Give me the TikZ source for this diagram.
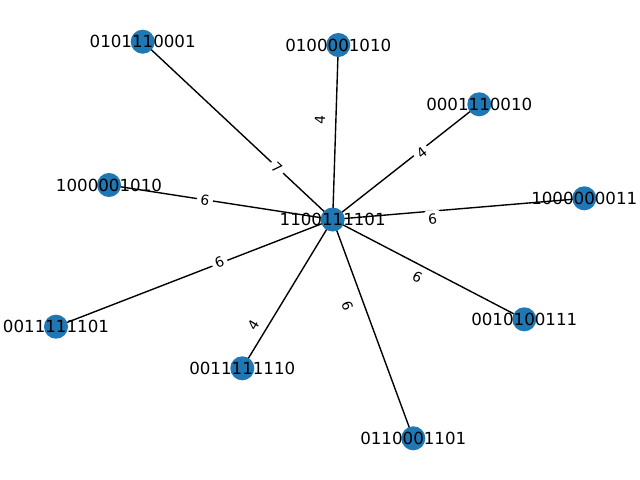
\documentclass[tikz,border=0pt]{standalone}
\usepackage{fontspec}
\setmainfont{DejaVu Sans}
\definecolor{nodeblue}{HTML}{1F77B4}
\begin{document}
\begin{tikzpicture}[x=0.72pt,y=-0.72pt,
  vertex/.style={circle,fill=nodeblue,draw=none,minimum size=17.3pt,inner sep=0pt},
  vlabel/.style={font=\fontsize{12}{14}\selectfont,inner sep=0pt,text=black},
  link/.style={draw=black,line width=1pt},
  wlabel/.style={font=\fontsize{10}{12}\selectfont,fill=white,rounded corners=2pt,inner sep=2.5pt}]
\useasboundingbox (0,0) rectangle (640,480);

% vertex positions
\coordinate (c)  at (332.7,219.5);
\coordinate (n1) at (142.7,41.7);
\coordinate (n2) at (338.3,45);
\coordinate (n3) at (479.3,104.3);
\coordinate (n4) at (109,185);
\coordinate (n5) at (584.3,198.3);
\coordinate (n6) at (56,326.7);
\coordinate (n7) at (242.3,368.3);
\coordinate (n8) at (524.3,319.3);
\coordinate (n9) at (413.3,438.3);

% edges
\foreach \n in {n1,n2,n3,n4,n5,n6,n7,n8,n9}
  \draw[link] (c) -- (\n);

% edge weights
\node[wlabel,rotate=-43]  (w1) at (276.7,168.3) {7};
\node[wlabel,rotate=88]   (w2) at (320,119.5) {4};
\node[wlabel,rotate=38]   (w3) at (421.7,152.7) {4};
\node[wlabel,rotate=-8.6] (w4) at (205,200) {6};
\node[wlabel,rotate=4.8]  (w5) at (432.7,219) {6};
\node[wlabel,rotate=21.3] (w6) at (219.3,261.7) {6};
\node[wlabel,rotate=58.6] (w7) at (253.3,325) {4};
\node[wlabel,rotate=-27.6](w8) at (417.3,277.3) {6};
\node[wlabel,rotate=-70]  (w9) at (347.3,306) {6};

% vertices
\foreach \n in {c,n1,n2,n3,n4,n5,n6,n7,n8,n9}
  \node[vertex] (v\n) at (\n) {};

% vertex names
\node[vlabel] (lc) at (c)  {1100111101};
\node[vlabel] (l1) at (n1) {0101110001};
\node[vlabel] (l2) at (n2) {0100001010};
\node[vlabel] (l3) at (n3) {0001110010};
\node[vlabel] (l4) at (n4) {1000001010};
\node[vlabel] (l5) at (n5) {1000000011};
\node[vlabel] (l6) at (n6) {0011111101};
\node[vlabel] (l7) at (n7) {0011111110};
\node[vlabel] (l8) at (n8) {0010100111};
\node[vlabel] (l9) at (n9) {0110001101};
\end{tikzpicture}
\end{document}
